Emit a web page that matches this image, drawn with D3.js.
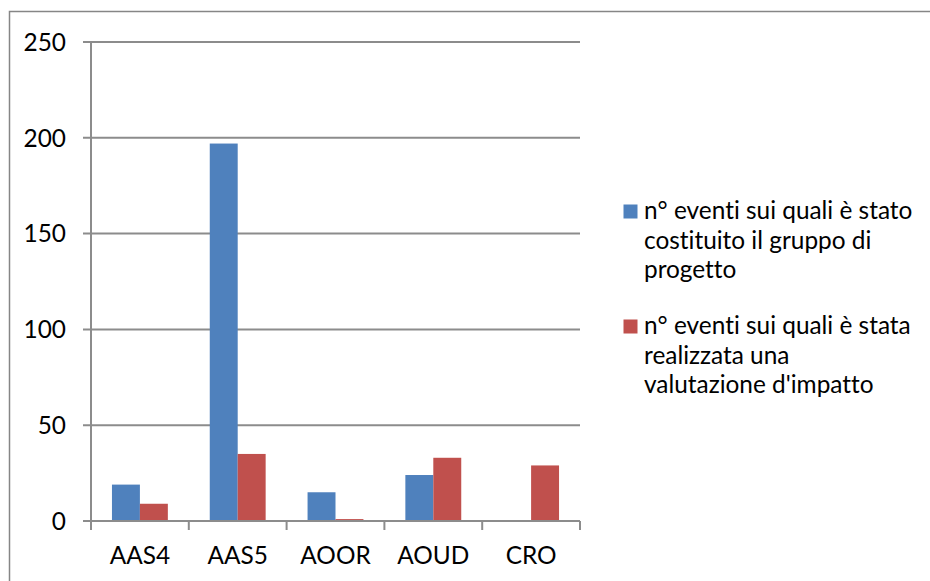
<!DOCTYPE html>
<html>
<head>
<meta charset="utf-8">
<script src="https://cdn.jsdelivr.net/npm/d3@7"></script>
<style>
  html, body { margin: 0; padding: 0; background: #fff; }
  svg { display: block; }
  text { font-family: Lato, "Open Sans", sans-serif; fill: #000; font-variant-ligatures: none; font-feature-settings: "liga" 0; }
</style>
</head>
<body>
<svg id="chart" width="930" height="581"></svg>
<script>
const categories = ["AAS4", "AAS5", "AOOR", "AOUD", "CRO"];
const seriesNames = [
  ["n° eventi sui quali è stato", "costituito il gruppo di", "progetto"],
  ["n° eventi sui quali è stata", "realizzata una", "valutazione d'impatto"]
];
const groupValues = [19, 197, 15, 24, 0];
const impactValues = [9, 35, 1, 33, 29];
const yTicks = [0, 50, 100, 150, 200, 250];
const colors = ["#4F81BD", "#C0504D"];

const svg = d3.select("#chart");
const fontSize = 24.4;

// outer border (top and left visible)
svg.append("path")
  .attr("d", "M9.5,600 V11.5 H940")
  .attr("fill", "none").attr("stroke", "#868686").attr("stroke-width", 1.5);

const x0 = d3.scaleBand().domain(categories).range([91, 580]).paddingInner(0).paddingOuter(0);
const y = d3.scaleLinear().domain([0, 250]).range([521, 42]);
const barW = x0.bandwidth() / 3.5;
const x1 = d3.scaleBand().domain([0, 1]).range([0, barW * 2]);

const gridColor = "#8c8c8c";

// gridlines
svg.append("g").selectAll("line").data(yTicks).join("line")
  .attr("x1", 83).attr("x2", 580)
  .attr("y1", d => y(d)).attr("y2", d => y(d))
  .attr("stroke", gridColor).attr("stroke-width", 2);

// y axis labels
svg.append("g").selectAll("text").data(yTicks).join("text")
  .attr("x", 66).attr("y", d => y(d))
  .attr("dy", "0.36em")
  .attr("text-anchor", "end")
  .attr("font-size", fontSize)
  .text(d => d);

// y axis line
svg.append("line").attr("x1", 91).attr("x2", 91).attr("y1", y(250)).attr("y2", y(0))
  .attr("stroke", gridColor).attr("stroke-width", 2);

// bars
const data = categories.map((c, i) => ({ c, vals: [groupValues[i], impactValues[i]] }));
const groups = svg.append("g").selectAll("g").data(data).join("g")
  .attr("transform", d => `translate(${x0(d.c) + (x0.bandwidth() - barW * 2) / 2},0)`);
groups.selectAll("rect").data(d => d.vals.map((v, k) => ({ v, k }))).join("rect")
  .attr("x", d => x1(d.k))
  .attr("width", x1.bandwidth())
  .attr("y", d => y(d.v))
  .attr("height", d => y(0) - y(d.v))
  .attr("fill", d => colors[d.k]);

// x axis line and ticks
svg.append("line").attr("x1", 83).attr("x2", 580).attr("y1", y(0)).attr("y2", y(0))
  .attr("stroke", gridColor).attr("stroke-width", 2);
const tickXs = categories.map(c => x0(c)).concat([x0.range()[1]]);
svg.append("g").selectAll("line").data(tickXs).join("line")
  .attr("x1", d => d).attr("x2", d => d)
  .attr("y1", y(0)).attr("y2", y(0) + 9)
  .attr("stroke", gridColor).attr("stroke-width", 2);

// x labels
svg.append("g").selectAll("text").data(categories).join("text")
  .attr("x", d => x0(d) + x0.bandwidth() / 2)
  .attr("y", 564)
  .attr("text-anchor", "middle")
  .attr("font-size", fontSize)
  .text(d => d);

// legend
const legendTops = [204.5, 319.5];
const lineH = 29.7;
seriesNames.forEach((lines, i) => {
  const g = svg.append("g");
  g.append("rect").attr("x", 623.5).attr("y", legendTops[i]).attr("width", 14).attr("height", 14)
    .attr("fill", colors[i]);
  g.selectAll("text").data(lines).join("text")
    .attr("x", 644)
    .attr("y", (d, j) => legendTops[i] + 14.5 + j * lineH)
    .attr("font-size", fontSize)
    .text(d => d);
});
</script>
</body>
</html>
